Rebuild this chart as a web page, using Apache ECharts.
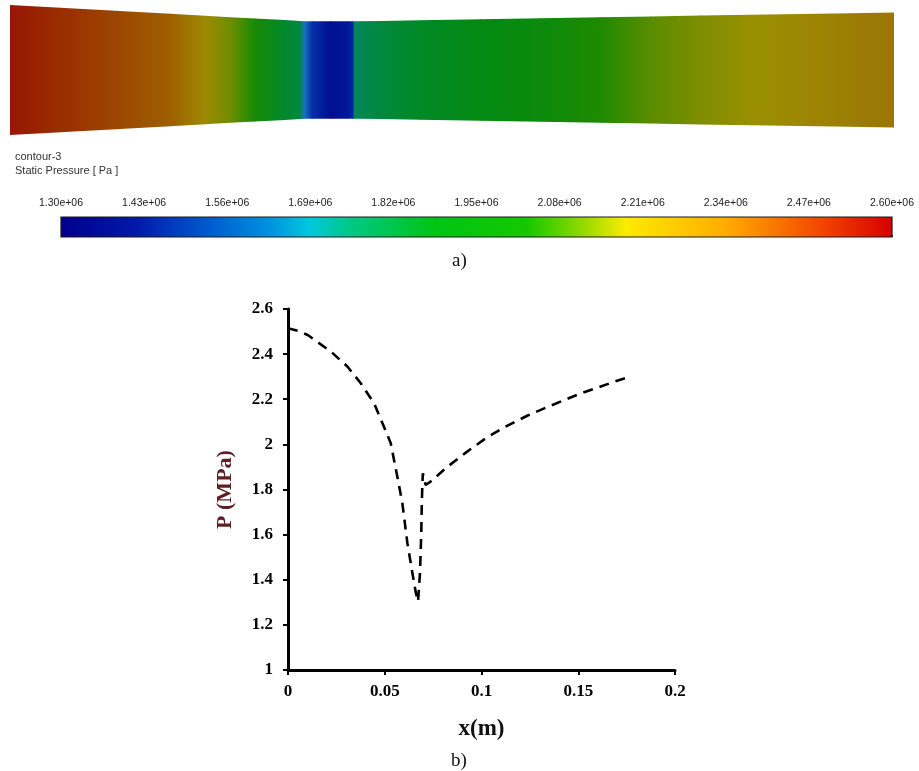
<!DOCTYPE html>
<html>
<head>
<meta charset="utf-8">
<script src="https://cdn.jsdelivr.net/npm/echarts@6/dist/echarts.min.js"></script>
<style>
html,body{margin:0;padding:0;background:#fff;}
#chart{width:919px;height:771px;}
</style>
</head>
<body>
<div id="chart"></div>
<script>
// ---------- DATA ----------
// b) static pressure along the nozzle axis
var lineX = [0, 0.005, 0.0102, 0.0222, 0.0308, 0.0376, 0.0445, 0.0496, 0.0531, 0.0565, 0.0591, 0.0617, 0.0643, 0.0660, 0.0672, 0.0682, 0.0686, 0.0689, 0.0691, 0.0694, 0.0697, 0.0711, 0.0737, 0.0823, 0.0926, 0.1030, 0.1132, 0.1236, 0.1339, 0.1424, 0.1510, 0.1613, 0.1680, 0.1768];
var lineP = [2.515, 2.503, 2.485, 2.411, 2.344, 2.271, 2.182, 2.078, 2.005, 1.857, 1.739, 1.562, 1.429, 1.345, 1.303, 1.429, 1.532, 1.621, 1.717, 1.813, 1.872, 1.820, 1.835, 1.900, 1.968, 2.032, 2.082, 2.127, 2.165, 2.195, 2.225, 2.255, 2.276, 2.300];

// a) contour: axial position (m), nozzle half-height (m), static pressure (MPa)
var contourX = [0, 0.0100, 0.0220, 0.0320, 0.0390, 0.0440, 0.0490, 0.0550, 0.0580, 0.0590, 0.0605, 0.0641, 0.0677, 0.0686, 0.0690, 0.0741, 0.0821, 0.0941, 0.1061, 0.1181, 0.1282, 0.1382, 0.1482, 0.1582, 0.1682, 0.1770];
var contourR = [0.0130, 0.01244, 0.01178, 0.01124, 0.01084, 0.01056, 0.0103, 0.00998, 0.0098, 0.00974, 0.00974, 0.00974, 0.00974, 0.00974, 0.00974, 0.00982, 0.00995, 0.01016, 0.01035, 0.01055, 0.01072, 0.01088, 0.01105, 0.0112, 0.01137, 0.01152];
var contourP = [2.57, 2.50, 2.42, 2.35, 2.23, 2.14, 2.03, 1.90, 1.85, 1.62, 1.45, 1.32, 1.36, 1.42, 1.81, 1.86, 1.91, 1.96, 1.99, 2.05, 2.11, 2.16, 2.20, 2.24, 2.27, 2.29];

// colour bar scale (Pa)
var barMin = 1300000, barMax = 2600000, barStep = 130000;
// axis ticks of plot b)
var xMin = 0, xMax = 0.2, xStep = 0.05;
var yMin = 1, yMax = 2.6, yStep = 0.2;

// ---------- STYLE (palettes) ----------
var barPalette = [
  [0.00, 'rgb(0,0,140)'], [0.09, 'rgb(0,25,170)'], [0.17, 'rgb(0,85,205)'], [0.25, 'rgb(0,145,222)'],
  [0.30, 'rgb(0,200,220)'], [0.35, 'rgb(0,200,130)'], [0.45, 'rgb(0,196,20)'], [0.56, 'rgb(20,200,0)'],
  [0.63, 'rgb(150,218,0)'], [0.68, 'rgb(252,235,0)'], [0.80, 'rgb(255,172,0)'], [0.92, 'rgb(242,65,0)'],
  [1.00, 'rgb(215,0,0)']
];
var contourPalette = [
  [1.30, [0, 10, 140]], [1.43, [0, 40, 165]], [1.56, [20, 90, 185]], [1.69, [30, 140, 190]],
  [1.82, [0, 135, 80]], [1.95, [0, 138, 20]], [2.05, [30, 138, 0]], [2.12, [100, 140, 0]],
  [2.21, [158, 144, 0]], [2.28, [155, 122, 6]], [2.34, [158, 98, 0]], [2.47, [155, 55, 0]], [2.60, [150, 12, 5]]
];
function contourColor(p) {
  var s = contourPalette;
  if (p <= s[0][0]) return 'rgb(' + s[0][1].join(',') + ')';
  for (var i = 1; i < s.length; i++) {
    if (p <= s[i][0]) {
      var t = (p - s[i-1][0]) / (s[i][0] - s[i-1][0]);
      var c = s[i-1][1].map(function (v, k) { return Math.round(v + (s[i][1][k] - v) * t); });
      return 'rgb(' + c.join(',') + ')';
    }
  }
  return 'rgb(' + s[s.length-1][1].join(',') + ')';
}

var serif = "'Liberation Serif', 'Times New Roman', serif";
var sans = "'Liberation Sans', Arial, sans-serif";

var contourData = contourX.slice(0, -1).map(function (x, i) {
  return [x, contourX[i+1], contourR[i], contourR[i+1], contourP[i], contourP[i+1]];
});
var lineData = lineX.map(function (x, i) { return [x, lineP[i]]; });

var chart = echarts.init(document.getElementById('chart'), null, {renderer: 'canvas'});
chart.setOption({
  animation: false,
  backgroundColor: '#fff',
  title: [
    {text: 'contour-3', left: 15, top: 151, padding: 0, textStyle: {fontFamily: sans, fontSize: 11, fontWeight: 'normal', color: '#333'}},
    {text: 'Static Pressure [ Pa ]', left: 15, top: 165, padding: 0, textStyle: {fontFamily: sans, fontSize: 11, fontWeight: 'normal', color: '#333'}},
    {text: 'a)', left: 452, top: 252, padding: 0, textStyle: {fontFamily: serif, fontSize: 19, fontWeight: 'normal', color: '#111'}},
    {text: 'b)', left: 451, top: 752, padding: 0, textStyle: {fontFamily: serif, fontSize: 19, fontWeight: 'normal', color: '#111'}}
  ],
  grid: [
    {left: 10, top: 5, width: 884, height: 130},
    {left: 61, top: 217, width: 831, height: 20},
    {left: 288, top: 309, width: 387, height: 361}
  ],
  xAxis: [
    {gridIndex: 0, type: 'value', min: 0, max: 0.177, show: false},
    {gridIndex: 1, type: 'value', position: 'top', min: barMin, max: barMax, interval: barStep,
      axisLine: {show: false}, splitLine: {show: false},
      axisTick: {show: true, inside: false, length: 2, lineStyle: {color: '#333', width: 1}},
      axisLabel: {margin: 8, fontFamily: sans, fontSize: 10.5, color: '#222',
        formatter: function (v) { return (v / 1e6).toFixed(2) + 'e+06'; }}},
    {gridIndex: 2, type: 'value', min: xMin, max: xMax, interval: xStep,
      name: 'x(m)', nameLocation: 'middle', nameGap: 48, nameMoveOverlap: false,
      nameTextStyle: {fontFamily: serif, fontSize: 23, fontWeight: 'bold', color: '#111'},
      axisLine: {show: true, onZero: false, lineStyle: {color: '#000', width: 3}},
      axisTick: {show: true, inside: false, length: 5, lineStyle: {color: '#000', width: 2}},
      axisLabel: {margin: 13, fontFamily: serif, fontSize: 17, fontWeight: 'bold', color: '#000'},
      splitLine: {show: false}}
  ],
  yAxis: [
    {gridIndex: 0, type: 'value', min: -0.013, max: 0.013, show: false},
    {gridIndex: 1, type: 'value', min: 0, max: 1, show: false},
    {gridIndex: 2, type: 'value', min: yMin, max: yMax, interval: yStep,
      name: 'P (MPa)', nameLocation: 'middle', nameGap: 52, nameRotate: 90, nameMoveOverlap: false,
      nameTextStyle: {fontFamily: serif, fontSize: 22, fontWeight: 'bold', color: '#5e1f22'},
      axisLine: {show: true, onZero: false, lineStyle: {color: '#000', width: 3}},
      axisTick: {show: true, inside: false, length: 5, lineStyle: {color: '#000', width: 2}},
      axisLabel: {margin: 15, fontFamily: serif, fontSize: 17, fontWeight: 'bold', color: '#000'},
      splitLine: {show: false}}
  ],
  series: [
    {
      type: 'custom', xAxisIndex: 0, yAxisIndex: 0, silent: true,
      data: contourData,
      renderItem: function (params, api) {
        var x0 = api.value(0), x1 = api.value(1), r0 = api.value(2), r1 = api.value(3);
        var a = api.coord([x0, r0]), b = api.coord([x1, r1]), c = api.coord([x1, -r1]), d = api.coord([x0, -r0]);
        var pad = params.dataIndex < contourData.length - 1 ? 0.8 : 0;
        return {
          type: 'polygon',
          shape: {points: [[a[0], a[1]], [b[0] + pad, b[1]], [c[0] + pad, c[1]], [d[0], d[1]]]},
          style: {
            fill: {type: 'linear', x: a[0], y: 0, x2: b[0], y2: 0, global: true,
              colorStops: [{offset: 0, color: contourColor(api.value(4))}, {offset: 1, color: contourColor(api.value(5))}]},
            stroke: null
          }
        };
      }
    },
    {
      type: 'custom', xAxisIndex: 1, yAxisIndex: 1, silent: true,
      data: [[barMin, barMax]],
      renderItem: function (params, api) {
        var tl = api.coord([api.value(0), 1]), br = api.coord([api.value(1), 0]);
        return {
          type: 'rect',
          shape: {x: tl[0], y: tl[1], width: br[0] - tl[0], height: br[1] - tl[1]},
          style: {
            fill: {type: 'linear', x: tl[0], y: 0, x2: br[0], y2: 0, global: true,
              colorStops: barPalette.map(function (s) { return {offset: s[0], color: s[1]}; })},
            stroke: '#1a1a1a', lineWidth: 1.2
          }
        };
      }
    },
    {
      type: 'line', xAxisIndex: 2, yAxisIndex: 2,
      data: lineData, showSymbol: false, symbol: 'none', smooth: false,
      lineStyle: {color: '#000', width: 2.6, type: [10, 7]}
    }
  ]
});
</script>
</body>
</html>
